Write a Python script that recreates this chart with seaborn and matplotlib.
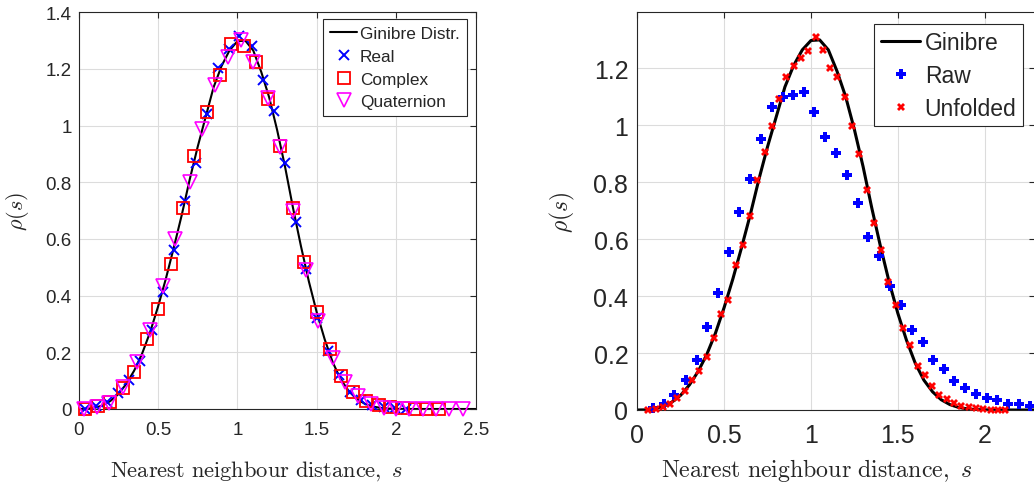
import numpy as np
import pandas as pd
import matplotlib
matplotlib.use("Agg")
import matplotlib.pyplot as plt
import seaborn as sns

# ---------------- data ----------------
# Ginibre theoretical curve (sampled)
curve_s = [0.00, 0.05, 0.10, 0.15, 0.20, 0.25, 0.30, 0.35, 0.40, 0.45, 0.50, 0.55,
           0.60, 0.65, 0.70, 0.75, 0.80, 0.85, 0.90, 0.95, 1.00, 1.05, 1.10, 1.15,
           1.20, 1.25, 1.30, 1.35, 1.40, 1.45, 1.50, 1.55, 1.60, 1.65, 1.70, 1.75,
           1.80, 1.85, 1.90, 1.95, 2.00, 2.10, 2.50]
curve_rho = [0.000, 0.0005, 0.004, 0.012, 0.028, 0.052, 0.088, 0.135, 0.195, 0.27, 0.36, 0.46,
             0.57, 0.685, 0.81, 0.925, 1.03, 1.135, 1.21, 1.265, 1.298, 1.30, 1.265, 1.19,
             1.10, 0.985, 0.855, 0.71, 0.575, 0.45, 0.34, 0.245, 0.165, 0.105, 0.064, 0.036,
             0.019, 0.009, 0.004, 0.0015, 0.0005, 0.0, 0.0]

# Left panel: Real / Complex / Quaternion ensembles
real_s = [0.04, 0.11, 0.18, 0.25, 0.32, 0.39, 0.46, 0.53, 0.60, 0.67, 0.74, 0.81, 0.88, 0.95,
          1.01, 1.09, 1.16, 1.23, 1.30, 1.37, 1.43, 1.50, 1.57, 1.64, 1.71, 1.78, 1.85, 1.92,
          1.99, 2.06]
real_rho = [0.0, 0.009, 0.024, 0.055, 0.103, 0.17, 0.279, 0.414, 0.562, 0.735, 0.868, 1.041,
            1.203, 1.27, 1.315, 1.28, 1.162, 1.052, 0.868, 0.661, 0.494, 0.32, 0.206, 0.12,
            0.059, 0.03, 0.015, 0.006, 0.003, 0.001]

complex_s = [0.04, 0.12, 0.20, 0.28, 0.35, 0.43, 0.50, 0.58, 0.66, 0.73, 0.81, 0.89, 0.96,
             1.04, 1.12, 1.19, 1.27, 1.35, 1.42, 1.50, 1.58, 1.65, 1.73, 1.81, 1.89, 1.96,
             2.04, 2.12, 2.19, 2.27]
complex_rho = [0.0, 0.01, 0.024, 0.074, 0.132, 0.247, 0.353, 0.512, 0.709, 0.894, 1.047,
               1.179, 1.288, 1.28, 1.223, 1.094, 0.929, 0.708, 0.518, 0.341, 0.212, 0.118,
               0.061, 0.029, 0.014, 0.006, 0.002, 0.0, 0.0, 0.0]

quat_s = [0.035, 0.115, 0.194, 0.28, 0.37, 0.45, 0.53, 0.61, 0.70, 0.78, 0.86, 0.94, 1.02,
          1.10, 1.19, 1.27, 1.35, 1.43, 1.51, 1.60, 1.68, 1.76, 1.84, 1.92, 2.00, 2.08,
          2.17, 2.25, 2.33, 2.42]
quat_rho = [0.0, 0.006, 0.021, 0.076, 0.165, 0.279, 0.435, 0.60, 0.802, 0.988, 1.143, 1.244,
            1.303, 1.223, 1.096, 0.923, 0.70, 0.492, 0.312, 0.179, 0.094, 0.045, 0.018,
            0.002, 0.0, 0.0, 0.0, 0.0, 0.0, 0.0]

# Right panel: Raw / Unfolded
raw_s = [0.092, 0.154, 0.213, 0.278, 0.342, 0.403, 0.464, 0.526, 0.587, 0.649, 0.71, 0.774,
         0.837, 0.898, 0.96, 1.019, 1.083, 1.144, 1.205, 1.269, 1.33, 1.393, 1.455, 1.518,
         1.58, 1.643, 1.704, 1.766, 1.825, 1.887, 1.95, 2.012, 2.073, 2.136, 2.198, 2.261]
raw_rho = [0.006, 0.021, 0.054, 0.105, 0.177, 0.29, 0.411, 0.556, 0.694, 0.81, 0.952, 1.066,
           1.098, 1.107, 1.116, 1.048, 0.958, 0.904, 0.826, 0.727, 0.608, 0.542, 0.434, 0.37,
           0.281, 0.24, 0.176, 0.144, 0.102, 0.078, 0.057, 0.042, 0.035, 0.022, 0.02, 0.013]

unf_s = [0.06, 0.107, 0.15, 0.188, 0.23, 0.273, 0.315, 0.357, 0.399, 0.441, 0.482, 0.524,
         0.566, 0.607, 0.649, 0.691, 0.733, 0.775, 0.816, 0.858, 0.9, 0.942, 0.985, 1.027,
         1.069, 1.111, 1.152, 1.194, 1.236, 1.278, 1.321, 1.363, 1.403, 1.445, 1.488, 1.53,
         1.572, 1.614, 1.656, 1.697, 1.739, 1.781, 1.823, 1.866, 1.908, 1.95, 1.992, 2.035,
         2.077, 2.119]
unf_rho = [0.0, 0.004, 0.012, 0.022, 0.043, 0.068, 0.105, 0.137, 0.187, 0.253, 0.337, 0.388,
           0.509, 0.58, 0.683, 0.807, 0.905, 0.999, 1.092, 1.169, 1.21, 1.237, 1.26, 1.311,
           1.265, 1.2, 1.171, 1.098, 0.998, 0.898, 0.774, 0.656, 0.563, 0.451, 0.369, 0.288,
           0.228, 0.153, 0.123, 0.085, 0.053, 0.039, 0.023, 0.015, 0.009, 0.006, 0.002, 0.0,
           0.0, 0.0]

left_xticks = [0, 0.5, 1, 1.5, 2, 2.5]
left_xticklabels = ["0", "0.5", "1", "1.5", "2", "2.5"]
left_yticks = [0, 0.2, 0.4, 0.6, 0.8, 1.0, 1.2, 1.4]
left_yticklabels = ["0", "0.2", "0.4", "0.6", "0.8", "1", "1.2", "1.4"]
right_xticks = [0, 0.5, 1, 1.5, 2]
right_xticklabels = ["0", "0.5", "1", "1.5", "2"]
right_yticks = [0, 0.2, 0.4, 0.6, 0.8, 1.0, 1.2]
right_yticklabels = ["0", "0.2", "0.4", "0.6", "0.8", "1", "1.2"]

XLABEL = r"$\mathrm{Nearest\ neighbour\ distance,}\ s$"
YLABEL = r"$\rho(s)$"

# ---------------- style ----------------
sns.set_theme(style="white")
plt.rcParams["font.family"] = ["Liberation Sans", "DejaVu Sans"]
plt.rcParams["mathtext.fontset"] = "cm"

W, H = 1034, 485
fig = plt.figure(figsize=(W / 100, H / 100), dpi=100)
fig.patch.set_facecolor("white")

def px_axes(x0, y_top, x1, y_bot):
    return fig.add_axes([x0 / W, 1 - y_bot / H, (x1 - x0) / W, (y_bot - y_top) / H])

axL = px_axes(78.5, 13.3, 475.7, 410.0)
axR = px_axes(637.3, 13.3, 1034.5, 411.0)

def style_axis(ax, fs, xpad, ypad):
    for sp in ax.spines.values():
        sp.set_visible(True)
        sp.set_color("#262626")
        sp.set_linewidth(0.8)
    ax.grid(True, color="#dcdcdc", linewidth=0.8)
    ax.set_axisbelow(True)
    ax.tick_params(direction="in", length=4, width=0.8, top=True, right=True,
                   labelsize=fs, colors="#262626")
    ax.tick_params(axis="x", pad=xpad)
    ax.tick_params(axis="y", pad=ypad)

# ---------------- left panel ----------------
sns.lineplot(x=curve_s, y=curve_rho, ax=axL, color="black", linewidth=1.5,
             label="Ginibre Distr.", estimator=None, sort=False)
sns.lineplot(x=real_s, y=real_rho, ax=axL, color="blue", linestyle="", marker="x",
             markersize=7, markeredgecolor="blue", markeredgewidth=1.4, label="Real",
             estimator=None, sort=False, clip_on=False, zorder=3)
sns.lineplot(x=complex_s, y=complex_rho, ax=axL, color="red", linestyle="", marker="s",
             markersize=8, markerfacecolor="none", markeredgecolor="red", markeredgewidth=1.3,
             label="Complex", estimator=None, sort=False, clip_on=False, zorder=3)
sns.lineplot(x=quat_s, y=quat_rho, ax=axL, color="magenta", linestyle="", marker="v",
             markersize=10, markerfacecolor="none", markeredgecolor="magenta",
             markeredgewidth=1.2, label="Quaternion", estimator=None, sort=False,
             clip_on=False, zorder=3)

axL.set_xlim(0, 2.5)
axL.set_ylim(0, 1.4)
axL.set_xticks(left_xticks)
axL.set_xticklabels(left_xticklabels)
axL.set_yticks(left_yticks)
axL.set_yticklabels(left_yticklabels)
style_axis(axL, 13.5, 9, 5)
axL.set_xlabel(XLABEL, fontsize=16.2, labelpad=14.5, x=0.448)
axL.set_ylabel(YLABEL, fontsize=16, labelpad=10)
legL = axL.legend(loc="upper right", bbox_to_anchor=(0.9773, 0.983), borderaxespad=0,
                  fontsize=12.4, frameon=True, fancybox=False, edgecolor="#262626",
                  framealpha=1, handlelength=1.6, handletextpad=0.15, labelspacing=0.45,
                  borderpad=0.4)
legL.get_frame().set_linewidth(0.8)

# ---------------- right panel ----------------
sns.lineplot(x=curve_s, y=curve_rho, ax=axR, color="black", linewidth=2.2,
             label="Ginibre", estimator=None, sort=False)
sns.lineplot(x=raw_s, y=raw_rho, ax=axR, color="blue", linestyle="", marker="P",
             markersize=7, markeredgecolor="blue", markeredgewidth=0, label="Raw",
             estimator=None, sort=False, clip_on=False, zorder=3)
sns.lineplot(x=unf_s, y=unf_rho, ax=axR, color="red", linestyle="", marker="X",
             markersize=5.5, markeredgecolor="red", markeredgewidth=0, label="Unfolded",
             estimator=None, sort=False, clip_on=False, zorder=3)

axR.set_xlim(0, 2.287)
axR.set_ylim(0, 1.397)
axR.set_xticks(right_xticks)
axR.set_xticklabels(right_xticklabels)
axR.set_yticks(right_yticks)
axR.set_yticklabels(right_yticklabels)
style_axis(axR, 18, 9.5, 6.5)
axR.set_xlabel(XLABEL, fontsize=17.2, labelpad=6, x=0.452)
axR.set_ylabel(YLABEL, fontsize=17, labelpad=12)
legR = axR.legend(loc="upper right", bbox_to_anchor=(0.9718, 0.9706), borderaxespad=0,
                  fontsize=16.5, frameon=True, fancybox=False, edgecolor="#262626",
                  framealpha=1, handlelength=1.7, handletextpad=0.2, labelspacing=0.43,
                  borderpad=0.3)
legR.get_frame().set_linewidth(0.8)

fig.savefig("out.png", dpi=100, facecolor="white")
